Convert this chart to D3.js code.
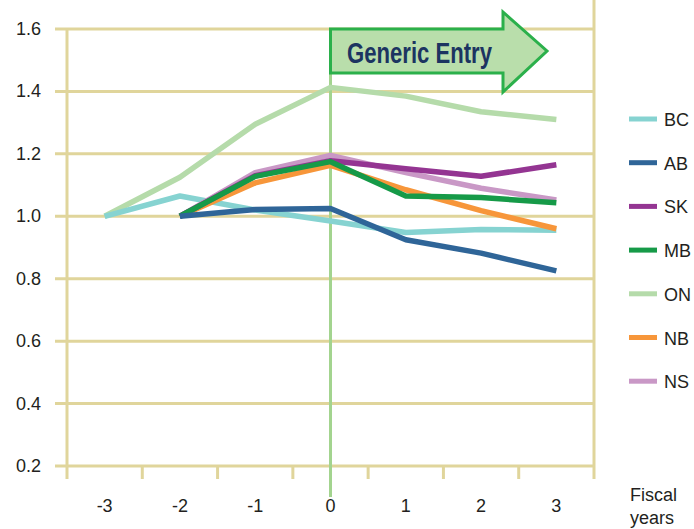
<!DOCTYPE html>
<html>
<head>
<meta charset="utf-8">
<script src="https://cdn.jsdelivr.net/npm/d3@7"></script>
<style>
  body { margin: 0; background: #fff; }
  svg { display: block; }
  text { font-family: "Liberation Sans", Arial, sans-serif; fill: #231f20; }
  .tick-label { font-size: 18px; }
  .legend-label { font-size: 18px; }
  .arrow-label { font-size: 29px; font-weight: bold; fill: #1c3461; }
</style>
</head>
<body>
<svg width="694" height="529"></svg>
<script>
// fiscal years relative to generic entry
const years = [-3, -2, -1, 0, 1, 2, 3];
const yTicks = [0.2, 0.4, 0.6, 0.8, 1.0, 1.2, 1.4, 1.6];

const provinces = ['BC', 'AB', 'SK', 'MB', 'ON', 'NB', 'NS'];
const colors = ['#86d3d1', '#2f6598', '#943592', '#169a48', '#b5dbaa', '#f7963a', '#c998c6'];

// index values (null = no data)
const bc = [1.00, 1.065, 1.02, 0.985, 0.948, 0.958, 0.955];
const ab = [null, 1.00, 1.022, 1.025, 0.925, 0.882, 0.825];
const sk = [null, 1.00, 1.13, 1.178, 1.152, 1.128, 1.165];
const mb = [null, 1.00, 1.128, 1.175, 1.065, 1.06, 1.043];
const on = [1.00, 1.125, 1.295, 1.413, 1.385, 1.335, 1.31];
const nb = [null, 1.00, 1.107, 1.163, 1.085, 1.018, 0.96];
const ns = [null, 1.00, 1.14, 1.195, 1.14, 1.09, 1.052];

const seriesValues = {BC: bc, AB: ab, SK: sk, MB: mb, ON: on, NB: nb, NS: ns};
const drawOrder = ['ON', 'BC', 'NS', 'NB', 'SK', 'MB', 'AB'];

const svg = d3.select('svg');
const color = d3.scaleOrdinal().domain(provinces).range(colors);

const x = d3.scaleBand().domain(years).range([67, 594]);
const y = d3.scaleLinear().domain([0.2, 1.6]).range([466, 29]);
const cx = d => x(d) + x.bandwidth() / 2;

const gridColor = '#e0d59b';

// horizontal gridlines
svg.append('g').selectAll('line').data(yTicks)
  .enter().append('line')
    .attr('x1', 55).attr('x2', 594)
    .attr('y1', d => y(d)).attr('y2', d => y(d))
    .attr('stroke', gridColor).attr('stroke-width', 3);

// y labels
svg.append('g').selectAll('text').data(yTicks)
  .enter().append('text')
    .attr('class', 'tick-label')
    .attr('x', 41).attr('y', d => y(d) + 6)
    .attr('text-anchor', 'end')
    .text(d => d3.format('.1f')(d));

// left axis and right frame
svg.append('line')
  .attr('x1', 67).attr('x2', 67).attr('y1', 29).attr('y2', 479)
  .attr('stroke', gridColor).attr('stroke-width', 3);
svg.append('line')
  .attr('x1', 594).attr('x2', 594).attr('y1', 0).attr('y2', 479)
  .attr('stroke', gridColor).attr('stroke-width', 3);

// x category boundary ticks
svg.append('g').selectAll('line').data(years.slice(1))
  .enter().append('line')
    .attr('x1', d => x(d)).attr('x2', d => x(d))
    .attr('y1', y(0.2)).attr('y2', 479)
    .attr('stroke', gridColor).attr('stroke-width', 3);

svg.append('g').selectAll('text').data(years)
  .enter().append('text')
    .attr('class', 'tick-label')
    .attr('x', d => cx(d)).attr('y', 512)
    .attr('text-anchor', 'middle')
    .text(d => d);

svg.append('text').attr('class', 'tick-label')
  .attr('x', 630).attr('y', 501).text('Fiscal');
svg.append('text').attr('class', 'tick-label')
  .attr('x', 630).attr('y', 524).text('years');

// generic entry marker line
svg.append('line')
  .attr('x1', cx(0)).attr('x2', cx(0)).attr('y1', 29).attr('y2', 497)
  .attr('stroke', '#a3d48f').attr('stroke-width', 3);

// series lines
const line = d3.line()
  .defined(d => d.v != null)
  .x(d => cx(d.year))
  .y(d => y(d.v));

svg.append('g').selectAll('path').data(drawOrder)
  .enter().append('path')
    .attr('fill', 'none')
    .attr('stroke', d => color(d))
    .attr('stroke-width', 5.5)
    .attr('stroke-linejoin', 'round')
    .attr('d', d => line(years.map((yr, i) => ({year: yr, v: seriesValues[d][i]}))));

// arrow
const ax0 = cx(0), ay0 = 29, ay1 = 73, hx = 503, hTop = 12, hBot = 92, tip = 547;
svg.append('path')
  .attr('d', `M${ax0},${ay0} L${hx},${ay0} L${hx},${hTop} L${tip},${(ay0 + ay1) / 2} L${hx},${hBot} L${hx},${ay1} L${ax0},${ay1} Z`)
  .attr('fill', '#b9deab')
  .attr('stroke', '#2bb04b')
  .attr('stroke-width', 3);
svg.append('text').attr('class', 'arrow-label')
  .attr('x', 347).attr('y', 63)
  .attr('textLength', 145)
  .attr('lengthAdjust', 'spacingAndGlyphs')
  .text('Generic Entry');

// legend
const legend = svg.append('g').attr('transform', 'translate(629, 119)');
const item = legend.selectAll('g').data(provinces)
  .enter().append('g')
    .attr('transform', (d, i) => `translate(0, ${i * 43.7})`);
item.append('line')
  .attr('x1', 0).attr('x2', 28).attr('y1', 0).attr('y2', 0)
  .attr('stroke', d => color(d)).attr('stroke-width', 5);
item.append('text')
  .attr('class', 'legend-label')
  .attr('x', 35).attr('y', 7)
  .text(d => d);
</script>
</body>
</html>
